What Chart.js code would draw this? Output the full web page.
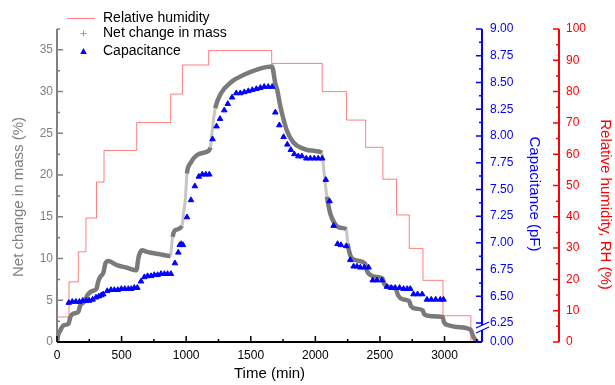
<!DOCTYPE html>
<html>
<head>
<meta charset="utf-8">
<script src="https://cdn.jsdelivr.net/npm/chart.js@4.4.1/dist/chart.umd.min.js"></script>
<style>
  html, body { margin: 0; padding: 0; background: #fff; }
  #wrap { width: 615px; height: 385px; }
</style>
</head>
<body>
<div id="wrap"><canvas id="chart" width="615" height="385"></canvas></div>
<script>
// Relative humidity steps: time (min) where each step starts, and RH (%) held from there
const rhTimes  = [0, 93, 165, 224, 306, 364, 617, 880, 971, 1174, 1662, 2053, 2242, 2389, 2523, 2628, 2727, 2833, 2988, 3204, 3290];
const rhValues = [8.0, 19.2, 28.8, 39.6, 51.1, 61.2, 70.1, 79.2, 88.5, 93.1, 89.0, 80.0, 70.9, 62.2, 52.0, 40.6, 29.9, 19.7, 8.4, 0, 0];

// Net change in mass (%)
const massTimes  = [0, 10, 26, 51, 90, 103, 128, 165, 178, 193, 220, 232, 245, 271, 306, 320, 335, 361, 374, 399, 464, 542, 614, 632, 658, 697, 800, 877, 895, 916, 967, 980, 993, 1006, 1032, 1084, 1161, 1187, 1205, 1225, 1270, 1345, 1460, 1560, 1664,
                    1690, 1705, 1728, 1745, 1780, 1830, 1900, 1990, 2051, 2063, 2078, 2090, 2115, 2154, 2190, 2240, 2250, 2270, 2310, 2386, 2400, 2430, 2470, 2520, 2535, 2570, 2625, 2640, 2680, 2725, 2740, 2780, 2830, 2845, 2890, 2985, 2995, 3030, 3100, 3200, 3224, 3251];
const massValues = [0, 0.9, 1.4, 2.0, 2.2, 3.0, 3.4, 3.6, 4.3, 4.6, 5.0, 5.5, 5.8, 6.1, 6.4, 7.3, 7.8, 8.4, 9.4, 9.7, 9.2, 8.9, 8.6, 10.2, 11.0, 10.8, 10.5, 10.3, 12.6, 13.4, 13.9, 15.5, 17.0, 20.2, 21.4, 22.4, 22.8, 23.3, 25.8, 28.0, 29.8, 31.1, 32.1, 32.7, 33.0,
                    31.0, 30.2, 28.3, 27.2, 25.3, 23.9, 23.2, 22.9, 22.7, 21.0, 18.8, 17.4, 15.4, 14.1, 13.7, 13.5, 11.8, 10.4, 9.8, 9.4, 8.5, 8.0, 7.8, 7.6, 6.9, 6.6, 6.3, 5.6, 5.1, 4.9, 4.3, 4.0, 3.8, 3.3, 3.1, 3.0, 2.4, 2.0, 1.8, 1.5, 0.6, 0];

// Capacitance (pF)
const capTimes  = [91, 118, 146, 173, 200, 227, 250, 276, 302, 324, 343, 358, 389, 418, 444, 471, 498, 525, 552, 575, 598, 622, 650, 676, 701, 728, 753, 779, 805, 831, 856, 882, 913, 939, 950, 962, 975, 1006, 1037, 1067, 1098, 1125, 1152, 1179,
                   1204, 1235, 1262, 1295, 1322, 1355, 1388, 1419, 1450, 1481, 1512, 1543, 1574, 1604, 1635, 1666,
                   1690, 1721, 1754, 1783, 1810, 1837, 1868, 1896, 1930, 1961, 1992, 2022, 2053, 2081, 2110, 2141, 2172, 2198, 2239, 2270, 2296, 2322, 2348, 2379, 2412,
                   2444, 2477, 2516, 2554, 2587, 2618, 2652, 2683, 2711, 2735, 2760, 2791, 2827, 2864, 2897, 2932, 2967, 2992];
const capValues = [6.44, 6.45, 6.45, 6.45, 6.46, 6.46, 6.46, 6.47, 6.49, 6.50, 6.51, 6.52, 6.55, 6.56, 6.56, 6.56, 6.57, 6.57, 6.57, 6.57, 6.58, 6.58, 6.64, 6.68, 6.69, 6.69, 6.70, 6.70, 6.71, 6.71, 6.71, 6.71, 6.81, 6.91, 6.98, 6.99, 6.98, 7.24, 7.40, 7.53, 7.62, 7.64, 7.64, 7.64,
                   7.97, 8.09, 8.16, 8.24, 8.30, 8.36, 8.40, 8.40, 8.41, 8.42, 8.43, 8.44, 8.45, 8.46, 8.46, 8.46,
                   8.22, 8.10, 7.99, 7.92, 7.87, 7.83, 7.81, 7.81, 7.79, 7.79, 7.79, 7.79, 7.79, 7.59, 7.39, 7.16, 6.99, 6.98, 6.97, 6.84, 6.78, 6.78, 6.77, 6.77, 6.77,
                   6.65, 6.65, 6.65, 6.59, 6.58, 6.58, 6.58, 6.57, 6.57, 6.57, 6.52, 6.52, 6.52, 6.47, 6.47, 6.47, 6.47, 6.47];

// axis ticks
const xTicks    = [0, 500, 1000, 1500, 2000, 2500, 3000];
const massTicks = [0, 5, 10, 15, 20, 25, 30, 35];
const capTicks  = [6.25, 6.50, 6.75, 7.00, 7.25, 7.50, 7.75, 8.00, 8.25, 8.50, 8.75, 9.00];
const rhTicks   = [0, 10, 20, 30, 40, 50, 60, 70, 80, 90, 100];
const capBreakLabel = '0.00';

const FONT = '"Liberation Sans", Arial, sans-serif';
const GRAY = '#808080';
const RH_LINE = 'rgba(255, 0, 0, 0.5)';
const CAP_MIN = 6.073;  // value at the bottom of the broken capacitance axis

const pts = (xs, ys) => xs.map((x, i) => ({ x, y: ys[i] }));
const fixTicks = vals => scale => { scale.ticks = vals.map(v => ({ value: v })); };
const fixWidth = w => scale => { scale.width = w; };
// steep parts of the mass curve show as sparse, paler markers
const steep = c => Math.abs(c.p1.parsed.y - c.p0.parsed.y) / Math.max(1, c.p1.parsed.x - c.p0.parsed.x) > 0.09;

// axis lines, inward tick marks, titles, axis break and legend
const axisDeco = {
  id: 'axisDeco',
  afterDraw(chart) {
    const { ctx, chartArea: a } = chart;
    const sx = chart.scales.x, sm = chart.scales.mass, sc = chart.scales.cap, sr = chart.scales.rh;
    ctx.save();

    function vTicks(scale, xPos, color, majors, minors, dir) {
      ctx.strokeStyle = color;
      ctx.lineWidth = 1.5;
      ctx.beginPath();
      majors.forEach(v => { const y = scale.getPixelForValue(v); ctx.moveTo(xPos, y); ctx.lineTo(xPos + dir * 6, y); });
      minors.forEach(v => { const y = scale.getPixelForValue(v); ctx.moveTo(xPos, y); ctx.lineTo(xPos + dir * 3, y); });
      ctx.stroke();
    }
    function line(x1, y1, x2, y2, color, w) {
      ctx.strokeStyle = color; ctx.lineWidth = w;
      ctx.beginPath(); ctx.moveTo(x1, y1); ctx.lineTo(x2, y2); ctx.stroke();
    }

    // left: mass
    line(a.left, a.top, a.left, a.bottom, GRAY, 2);
    vTicks(sm, a.left, GRAY, massTicks, massTicks.map(v => v + 2.5), 1);

    // bottom: time
    line(a.left, a.bottom, a.right, a.bottom, '#000', 2);
    ctx.strokeStyle = '#000'; ctx.lineWidth = 1.5;
    ctx.beginPath();
    xTicks.forEach(v => { const x = sx.getPixelForValue(v); ctx.moveTo(x, a.bottom); ctx.lineTo(x, a.bottom - 6); });
    xTicks.forEach(v => { const x = sx.getPixelForValue(v + 250); if (x < a.right) { ctx.moveTo(x, a.bottom); ctx.lineTo(x, a.bottom - 3); } });
    ctx.stroke();

    // right 1: capacitance with break
    const cx = sc.left;
    line(cx, a.top, cx, 325, '#0000ff', 2);
    line(cx, 330, cx, a.bottom, '#0000ff', 2);
    line(cx - 6, 333, cx + 7, 327, '#0000ff', 1.2);
    line(cx - 6, 328, cx + 7, 322, '#0000ff', 1.2);
    vTicks(sc, cx, '#0000ff', [CAP_MIN].concat(capTicks), capTicks.slice(0, -1).map(v => v + 0.125), -1);

    // right 2: RH
    const rx = sr.left;
    line(rx, a.top, rx, a.bottom, '#ff0000', 2);
    vTicks(sr, rx, '#ff0000', rhTicks, rhTicks.slice(0, -1).map(v => v + 5), -1);

    // axis titles
    ctx.font = '15px ' + FONT;
    ctx.textAlign = 'center';
    ctx.textBaseline = 'middle';
    ctx.fillStyle = '#000';
    ctx.fillText('Time (min)', (a.left + a.right) / 2, 373.5);

    ctx.save(); ctx.translate(19, 197); ctx.rotate(-Math.PI / 2);
    ctx.fillStyle = GRAY; ctx.fillText('Net change in mass (%)', 0, 0); ctx.restore();

    ctx.save(); ctx.translate(534, 194); ctx.rotate(Math.PI / 2);
    ctx.fillStyle = '#0000ff'; ctx.fillText('Capacitance (pF)', 0, 0); ctx.restore();

    ctx.save(); ctx.translate(605.5, 204.5); ctx.rotate(Math.PI / 2);
    ctx.fillStyle = '#ff0000'; ctx.fillText('Relative humidity, RH (%)', 0, 0); ctx.restore();

    // legend
    const ds = chart.data.datasets;
    ctx.font = '14px ' + FONT;
    ctx.textAlign = 'left';
    ctx.fillStyle = '#000';
    line(67, 18.5, 95, 18.5, RH_LINE, 1);
    ctx.fillText(ds[0].label, 103, 18);
    line(80.5, 33.5, 86.5, 33.5, '#999', 1);
    line(83.5, 30.5, 83.5, 36.5, '#999', 1);
    ctx.fillText(ds[1].label, 103, 33.5);
    ctx.fillStyle = '#0000ff';
    ctx.beginPath(); ctx.moveTo(83.5, 48); ctx.lineTo(86.8, 54); ctx.lineTo(80.2, 54); ctx.closePath(); ctx.fill();
    ctx.fillStyle = '#000';
    ctx.fillText(ds[2].label, 103, 51);

    ctx.restore();
  }
};

new Chart(document.getElementById('chart'), {
  type: 'line',
  data: {
    datasets: [
      {
        label: 'Relative humidity',
        data: pts(rhTimes, rhValues),
        yAxisID: 'rh',
        stepped: 'before',
        borderColor: RH_LINE,
        borderWidth: 1,
        pointRadius: 0,
        order: 2
      },
      {
        label: 'Net change in mass',
        data: pts(massTimes, massValues),
        yAxisID: 'mass',
        borderColor: '#7a7a7a',
        borderWidth: 4.5,
        cubicInterpolationMode: 'monotone',
        pointRadius: 0,
        order: 1,
        segment: {
          borderColor: c => steep(c) ? 'rgba(128,128,128,0.45)' : undefined,
          borderWidth: c => steep(c) ? 3 : undefined
        }
      },
      {
        label: 'Capacitance',
        data: pts(capTimes, capValues),
        yAxisID: 'cap',
        showLine: false,
        pointStyle: 'triangle',
        pointRadius: 3.2,
        pointBackgroundColor: '#0000ff',
        pointBorderColor: '#0000ff',
        pointBorderWidth: 1,
        order: 0
      }
    ]
  },
  options: {
    responsive: false,
    animation: false,
    devicePixelRatio: 1,
    layout: { padding: { top: 29, left: 0, right: 0, bottom: 0 } },
    plugins: { legend: { display: false }, tooltip: { enabled: false } },
    scales: {
      x: {
        type: 'linear', position: 'bottom', min: 0, max: 3290,
        grid: { display: false, drawTicks: false }, border: { display: false },
        ticks: { color: '#000', font: { family: FONT, size: 12 }, padding: 6, maxRotation: 0, autoSkip: false,
                 callback: v => String(v) },
        afterBuildTicks: fixTicks(xTicks),
        afterFit: s => { s.height = 43; }
      },
      mass: {
        type: 'linear', position: 'left', min: 0, max: 37.5,
        grid: { display: false, drawTicks: false }, border: { display: false },
        ticks: { color: GRAY, font: { family: FONT, size: 12 }, padding: 4, autoSkip: false },
        afterBuildTicks: fixTicks(massTicks),
        afterFit: fixWidth(57)
      },
      cap: {
        type: 'linear', position: 'right', min: CAP_MIN, max: 9.0,
        grid: { display: false, drawTicks: false }, border: { display: false },
        ticks: {
          color: '#0000ff', font: { family: FONT, size: 12 }, padding: 8, autoSkip: false,
          callback: v => v === CAP_MIN ? capBreakLabel : v.toFixed(2)
        },
        afterBuildTicks: fixTicks([CAP_MIN].concat(capTicks)),
        afterFit: fixWidth(77)
      },
      rh: {
        type: 'linear', position: 'right', min: 0, max: 100,
        grid: { display: false, drawTicks: false }, border: { display: false },
        ticks: { color: '#ff0000', font: { family: FONT, size: 12 }, padding: 7, autoSkip: false },
        afterBuildTicks: fixTicks(rhTicks),
        afterFit: fixWidth(56)
      }
    }
  },
  plugins: [axisDeco]
});
</script>
</body>
</html>
